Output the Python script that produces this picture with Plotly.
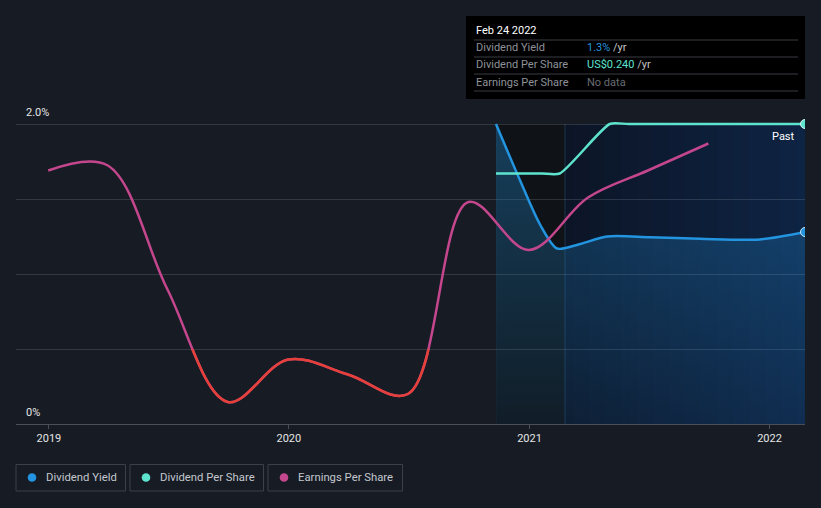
import plotly.graph_objects as go
import datetime as _dt

# ---------------- data ----------------
eps_dates = ["2018-12-31", "2019-03-31", "2019-06-30", "2019-09-30", "2019-12-31",
             "2020-03-31", "2020-06-30", "2020-09-30", "2020-12-31", "2021-03-31",
             "2021-06-30", "2021-09-30"]
eps_values = [1.69, 1.725, 0.9, 0.147, 0.43, 0.33, 0.2, 1.48, 1.16, 1.51, 1.69, 1.87]

dy_dates = ["2020-11-11", "2020-12-17", "2021-01-17", "2021-02-12", "2021-03-19",
            "2021-04-29", "2021-07-03", "2021-09-17", "2021-12-17", "2022-02-24"]
dy_values = [2.0, 1.63, 1.33, 1.17, 1.2, 1.25, 1.245, 1.235, 1.23, 1.28]

dps_dates = ["2020-11-11", "2021-01-20", "2021-02-16", "2021-05-03", "2021-06-01", "2022-02-24"]
dps_values = [1.67, 1.67, 1.67, 2.0, 2.0, 2.0]

x_range = ["2018-11-12", "2022-02-24"]
y_top = 2.04
shade_start = "2020-11-12"
past_start = "2021-02-24"
tick_vals = ["2019-01-01", "2020-01-01", "2021-01-01", "2022-01-01"]
tick_text = ["2019", "2020", "2021", "2022"]
red_below = 0.5
legend_names = ["Dividend Yield", "Dividend Per Share", "Earnings Per Share"]

C_DY = "#2394df"
C_DPS = "#5ee3cf"
C_EPS = "#c4468c"
C_RED = "#e5403a"
BG = "#161b24"
FONT = "Roboto"

W, H = 821, 508
L, R, T, B = 16, 16, 118, 84
PW, PH = W - L - R, H - T - B


def px(x):
    return (x - L) / PW


def py(y):
    return (H - B - y) / PH


fig = go.Figure()

fig.add_trace(go.Scatter(
    x=dy_dates, y=dy_values, mode="lines", line=dict(color=C_DY, width=2.5, shape="spline", smoothing=0.8),
    fill="tozeroy",
    fillgradient=dict(type="vertical", colorscale=[[0, "rgba(35,148,223,0.08)"], [1, "rgba(35,148,223,0.34)"]]),
    hoverinfo="skip", showlegend=False))

fig.add_trace(go.Scatter(
    x=dps_dates, y=dps_values, mode="lines", line=dict(color=C_DPS, width=2.5, shape="spline", smoothing=0.6),
    hoverinfo="skip", showlegend=False))

fig.add_trace(go.Scatter(
    x=eps_dates, y=eps_values, mode="lines", line=dict(color=C_EPS, width=2.5, shape="spline", smoothing=1.0),
    hoverinfo="skip", showlegend=False))

fig.add_trace(go.Scatter(
    x=eps_dates, y=eps_values, mode="lines", line=dict(color=C_RED, width=2.5, shape="spline", smoothing=1.0),
    xaxis="x2", yaxis="y2", hoverinfo="skip", showlegend=False))

fig.add_trace(go.Scatter(
    x=[dy_dates[-1]], y=[dy_values[-1]], mode="markers",
    marker=dict(color=C_DY, size=9, line=dict(color="#cfe6f7", width=1)),
    hoverinfo="skip", showlegend=False))
fig.add_trace(go.Scatter(
    x=[dps_dates[-1]], y=[dps_values[-1]], mode="markers",
    marker=dict(color=C_DPS, size=9, line=dict(color="#d6f7f1", width=1)),
    hoverinfo="skip", showlegend=False))

shapes = []
shapes.append(dict(type="rect", xref="x", yref="y", x0=shade_start, x1=past_start, y0=0, y1=2.0,
                   fillcolor="#0f1318", line=dict(width=0), layer="below"))
d0 = _dt.date.fromisoformat(past_start)
d1 = _dt.date.fromisoformat(x_range[1])
n = 30
c0 = (12, 21, 38)
c1 = (14, 36, 68)
span = (d1 - d0).days
for i in range(n):
    a = d0 + _dt.timedelta(days=span * i / n)
    b = min(d0 + _dt.timedelta(days=span * (i + 1) / n + 1), d1)
    t = (i + 0.5) / n
    col = tuple(round(c0[k] + (c1[k] - c0[k]) * t) for k in range(3))
    shapes.append(dict(type="rect", xref="x", yref="y", x0=a.isoformat(), x1=b.isoformat(),
                       y0=0, y1=2.0, fillcolor="rgb(%d,%d,%d)" % col, line=dict(width=0), layer="below"))
shapes.append(dict(type="line", xref="x", yref="y", x0=past_start, x1=past_start, y0=0, y1=2.0,
                   line=dict(color="#1f344c", width=1), layer="below"))

# tooltip box
shapes.append(dict(type="rect", xref="paper", yref="paper", x0=px(466), x1=px(805), y0=py(16), y1=py(99),
                   fillcolor="#000000", line=dict(width=0), layer="above"))
for yy in [40, 57, 74, 91]:
    shapes.append(dict(type="line", xref="paper", yref="paper", x0=px(474), x1=px(798), y0=py(yy), y1=py(yy),
                       line=dict(color="#3a3d42", width=1), layer="above"))

ann = []
ann.append(dict(xref="paper", yref="paper", x=px(24), y=py(112), xanchor="left", yanchor="middle",
                text="2.0%", showarrow=False, font=dict(family=FONT, size=11, color="#e6e6e6")))
ann.append(dict(xref="paper", yref="paper", x=px(24), y=py(412), xanchor="left", yanchor="middle",
                text="0%", showarrow=False, font=dict(family=FONT, size=11, color="#e6e6e6")))
ann.append(dict(xref="paper", yref="paper", x=px(797), y=py(136), xanchor="right", yanchor="middle",
                text="Past", showarrow=False, font=dict(family=FONT, size=11, color="#ffffff")))

ann.append(dict(xref="paper", yref="paper", x=px(474), y=py(31), xanchor="left", yanchor="middle",
                text="Feb 24 2022", showarrow=False, font=dict(family=FONT, size=11, color="#ffffff")))
rows = [("Dividend Yield", '<span style="color:%s">1.3%%</span> /yr' % C_DY, 48),
        ("Dividend Per Share", '<span style="color:%s">US$0.240</span> /yr' % C_DPS, 65),
        ("Earnings Per Share", '<span style="color:#686c72">No data</span>', 82)]
for lab, val, yy in rows:
    ann.append(dict(xref="paper", yref="paper", x=px(474), y=py(yy), xanchor="left", yanchor="middle",
                    text=lab, showarrow=False, font=dict(family=FONT, size=11, color="#8e9299")))
    ann.append(dict(xref="paper", yref="paper", x=px(585), y=py(yy), xanchor="left", yanchor="middle",
                    text=val, showarrow=False, font=dict(family=FONT, size=11, color="#c4c4c4")))

# legend: boxes, dots, labels
legend_colors = [C_DY, C_DPS, C_EPS]
legend_boxes = [(16, 125.5), (130, 263.5), (268, 402.5)]
for name, col, (bx0, bx1) in zip(legend_names, legend_colors, legend_boxes):
    shapes.append(dict(type="rect", xref="paper", yref="paper", x0=px(bx0), x1=px(bx1),
                       y0=py(464.5), y1=py(491), fillcolor="rgba(0,0,0,0)",
                       line=dict(color="#3b4049", width=1), layer="above"))
    cx = bx0 + 16
    shapes.append(dict(type="circle", xref="paper", yref="paper", x0=px(cx - 4.3), x1=px(cx + 4.3),
                       y0=py(477.5 + 4.3), y1=py(477.5 - 4.3), fillcolor=col, line=dict(width=0),
                       layer="above"))
    ann.append(dict(xref="paper", yref="paper", x=px(bx0 + 28), y=py(477.5), xanchor="left",
                    yanchor="middle", text=name, showarrow=False,
                    font=dict(family=FONT, size=11.3, color="#c4c8ce")))

fig.update_layout(
    width=W, height=H, margin=dict(l=L, r=R, t=T, b=B),
    paper_bgcolor=BG, plot_bgcolor="rgba(0,0,0,0)",
    showlegend=False, shapes=shapes, annotations=ann,
    xaxis=dict(type="date", range=x_range, tickvals=tick_vals, ticktext=tick_text,
               showgrid=False, zeroline=False, showline=True, linecolor="#4a4f57", linewidth=1,
               ticks="outside", ticklen=4, tickcolor="#4a4f57",
               tickfont=dict(family=FONT, size=11, color="#e6e6e6")),
    yaxis=dict(range=[0, y_top], tickvals=[0, 0.5, 1.0, 1.5, 2.0], showticklabels=False,
               showgrid=True, gridcolor="rgba(255,255,255,0.13)", gridwidth=1, zeroline=False),
    xaxis2=dict(type="date", range=x_range, visible=False, anchor="y2", overlaying="x"),
    yaxis2=dict(range=[0, red_below], domain=[0, red_below / y_top], visible=False, anchor="x2"),
)

fig.write_html("out.html")
